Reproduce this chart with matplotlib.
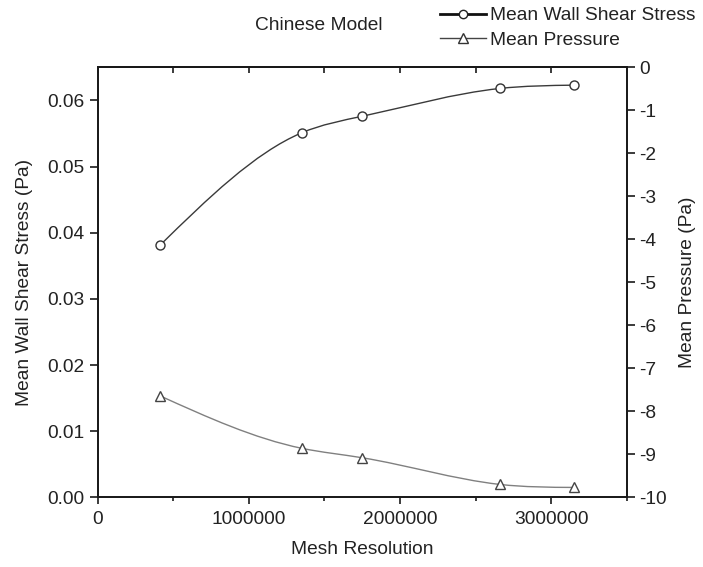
import numpy as np
import matplotlib
matplotlib.use("Agg")
import matplotlib.pyplot as plt
from matplotlib.path import Path
from matplotlib.patches import PathPatch
from matplotlib.lines import Line2D
from matplotlib.ticker import MultipleLocator, FormatStrFormatter

# ---- data ----
mesh_resolution = [412000, 1350000, 1750000, 2660000, 3150000]
mean_wss = [0.0381, 0.0551, 0.0576, 0.0618, 0.0623]
mean_pressure = [-7.64, -8.86, -9.08, -9.70, -9.77]

title_text = "Chinese Model"
series_labels = ["Mean Wall Shear Stress", "Mean Pressure"]
xlabel_text = "Mesh Resolution"
ylabel_left = "Mean Wall Shear Stress (Pa)"
ylabel_right = "Mean Pressure (Pa)"

plt.rcParams["font.family"] = ["Liberation Sans", "DejaVu Sans"]
plt.rcParams["axes.unicode_minus"] = False
FS = 13.8
TXT = "#222222"


def spline_path(x, y):
    """Natural cubic spline through the points, drawn as Bezier segments."""
    x = np.asarray(x, float)
    y = np.asarray(y, float)
    n = len(x)
    h = np.diff(x)
    A = np.zeros((n, n))
    b = np.zeros(n)
    A[0, 0] = 1.0
    A[-1, -1] = 1.0
    for i in range(1, n - 1):
        A[i, i - 1] = h[i - 1]
        A[i, i] = 2 * (h[i - 1] + h[i])
        A[i, i + 1] = h[i]
        b[i] = 6 * ((y[i + 1] - y[i]) / h[i] - (y[i] - y[i - 1]) / h[i - 1])
    M = np.linalg.solve(A, b)
    m = np.zeros(n)
    for i in range(n - 1):
        m[i] = (y[i + 1] - y[i]) / h[i] - h[i] * (2 * M[i] + M[i + 1]) / 6
    m[-1] = (y[-1] - y[-2]) / h[-1] + h[-1] * (M[-2] + 2 * M[-1]) / 6
    verts = [(x[0], y[0])]
    codes = [Path.MOVETO]
    for i in range(n - 1):
        verts += [(x[i] + h[i] / 3, y[i] + m[i] * h[i] / 3),
                  (x[i + 1] - h[i] / 3, y[i + 1] - m[i + 1] * h[i] / 3),
                  (x[i + 1], y[i + 1])]
        codes += [Path.CURVE4] * 3
    return Path(verts, codes)


fig = plt.figure(figsize=(7.03, 5.67), dpi=100)
ax = fig.add_axes([0.1390, 0.1229, 0.7525, 0.7584])
ax2 = ax.twinx()

# left axis: wall shear stress
ax.add_patch(PathPatch(spline_path(mesh_resolution, mean_wss), fill=False,
                       edgecolor="#3a3a3a", lw=1.0, zorder=2))
ax.plot(mesh_resolution, mean_wss, linestyle="none", marker="o", ms=6.5,
        mfc="white", mec="#333333", mew=1.0, zorder=3)

# right axis: pressure
ax2.add_patch(PathPatch(spline_path(mesh_resolution, mean_pressure), fill=False,
                        edgecolor="#808080", lw=1.0, zorder=2))
ax2.plot(mesh_resolution, mean_pressure, linestyle="none", marker="^", ms=7.5,
         mfc="white", mec="#444444", mew=1.0, zorder=3)

ax.set_xlim(0, 3500000)
ax.set_ylim(0, 0.065)
ax2.set_ylim(-10, 0)

ax.xaxis.set_major_locator(MultipleLocator(1000000))
ax.xaxis.set_minor_locator(MultipleLocator(500000))
ax.xaxis.set_major_formatter(FormatStrFormatter("%d"))
ax.yaxis.set_major_locator(MultipleLocator(0.01))
ax.yaxis.set_major_formatter(FormatStrFormatter("%.2f"))
ax2.yaxis.set_major_locator(MultipleLocator(1))
ax2.yaxis.set_major_formatter(FormatStrFormatter("%d"))

for a in (ax, ax2):
    for s in a.spines.values():
        s.set_linewidth(1.3)
        s.set_color("#1a1a1a")

ax.tick_params(axis="x", which="major", direction="out", length=5, width=1.2,
               pad=5, labelsize=FS, colors="#1a1a1a", labelcolor=TXT, top=False)
ax.tick_params(axis="x", which="minor", direction="out", length=3, width=1.2,
               colors="#1a1a1a", top=False)
ax.tick_params(axis="y", which="major", direction="out", length=5.5, width=1.2,
               pad=4, labelsize=FS, colors="#1a1a1a", labelcolor=TXT)
ax2.tick_params(axis="y", which="major", direction="out", length=5.5, width=1.2,
                pad=3.5, labelsize=FS, colors="#1a1a1a", labelcolor=TXT)

# top mirror ticks pointing inward
top = ax.secondary_xaxis("top")
top.xaxis.set_major_locator(MultipleLocator(500000))
top.tick_params(axis="x", which="major", direction="in", length=4.5, width=1.2,
                labeltop=False, colors="#1a1a1a")
top.tick_params(axis="x", which="minor", length=0)
top.spines["top"].set_linewidth(1.3)

# labels and title
fig.text(25 / 703, 1 - 282 / 567, ylabel_left, rotation=90, ha="center",
         va="center", fontsize=FS, color=TXT)
fig.text(688 / 703, 1 - 282 / 567, ylabel_right, rotation=90, ha="center",
         va="center", fontsize=FS, color=TXT)
fig.text(362 / 703, 1 - 550 / 567, xlabel_text, ha="center", va="center",
         fontsize=FS, color=TXT)
fig.text(319 / 703, 1 - 25 / 567, title_text, ha="center", va="center",
         fontsize=FS, color=TXT)

handles = [
    Line2D([], [], color="#111111", lw=2.0, marker="o", ms=6, mfc="white",
           mec="#222222", mew=1.0),
    Line2D([], [], color="#444444", lw=1.0, marker="^", ms=6.5, mfc="white",
           mec="#333333", mew=1.0),
]
fig.legend(handles, series_labels, loc="upper left",
           bbox_to_anchor=(440 / 703, 1 - 7 / 567), frameon=False,
           fontsize=FS, handlelength=2.4, handletextpad=0.2, borderpad=0,
           borderaxespad=0, labelspacing=0.38, labelcolor=TXT)

fig.savefig("out.png", dpi=100)
